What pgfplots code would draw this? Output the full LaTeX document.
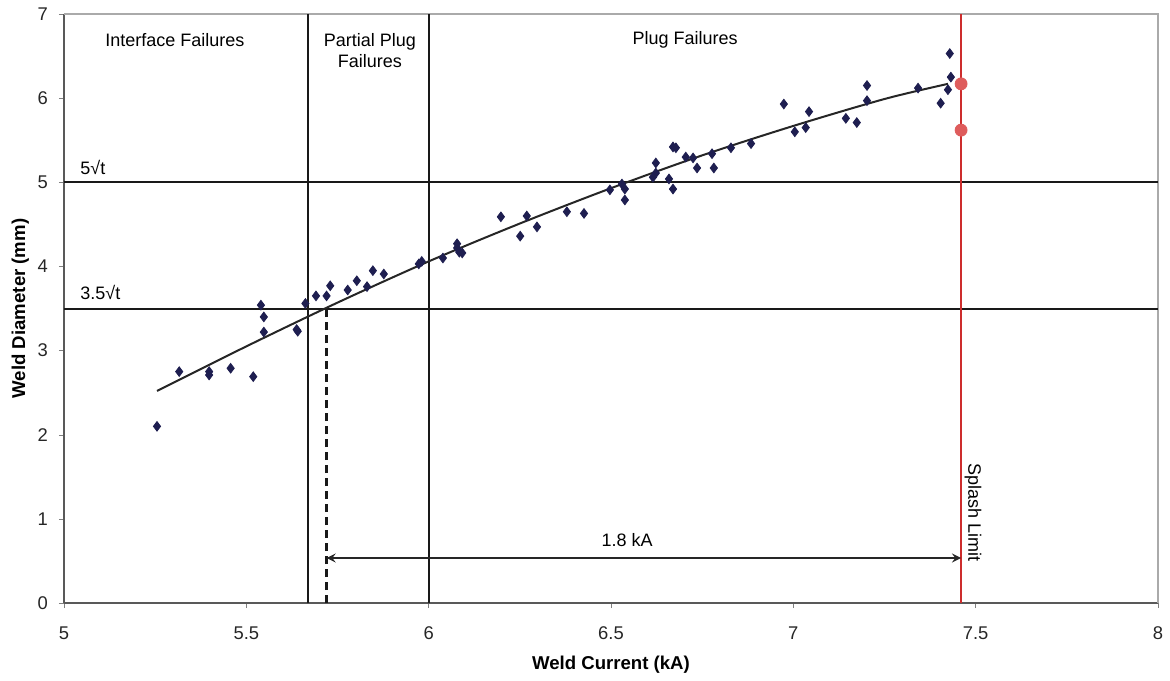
\documentclass[border=0pt]{standalone}
\usepackage{pgfplots}
\pgfplotsset{compat=1.18}
\usepackage{fontspec}
\setmainfont{Liberation Sans}

\definecolor{dotblue}{RGB}{30,30,80}
\definecolor{splashred}{RGB}{222,92,92}
\definecolor{redline}{RGB}{205,45,45}
\definecolor{framegray}{RGB}{170,170,170}

\begin{document}
\begin{tikzpicture}
\begin{axis}[
    width=547pt, height=294.5pt,
    scale only axis,
    xmin=5, xmax=8,
    ymin=0, ymax=7,
    xtick={5,5.5,...,8},
    ytick={0,1,...,7},
    axis lines=left,
    axis line style={-, draw=black!65, line width=0.6pt},
    tick align=outside,
    major tick length=2.5pt,
    tick style={black!50},
    ticklabel style={font=\fontsize{9.2}{10}\selectfont, text=black!85},
    /pgf/number format/assume math mode=true,
    xticklabel style={yshift=-6pt},
    yticklabel style={xshift=-2pt},
    xlabel={\textbf{Weld Current (kA)}},
    ylabel={\textbf{Weld Diameter (mm)}},
    xlabel style={at={(axis description cs:0.5,-0.105)}, anchor=center, font=\fontsize{9.3}{11}\selectfont},
    ylabel style={at={(axis description cs:-0.040,0.5)}, anchor=center, font=\fontsize{9.3}{11}\selectfont},
    clip=false,
]

% plot frame, top and right
\draw[framegray, line width=0.6pt] (rel axis cs:0,1) -- (rel axis cs:1,1) -- (rel axis cs:1,0);

% limits
\addplot[black!90, line width=1pt] coordinates {(5,5) (8,5)};
\addplot[black!90, line width=1pt] coordinates {(5,3.5) (8,3.5)};
\addplot[black!90, line width=1pt] coordinates {(5.67,0) (5.67,7)};
\addplot[black!90, line width=1pt] coordinates {(6,0) (6,7)};
\addplot[black!90, line width=1.4pt, dash pattern=on 4pt off 2.5pt] coordinates {(5.72,0) (5.72,3.5)};
\addplot[redline, line width=0.6pt] coordinates {(7.46,0) (7.46,7)};
\addplot[black!85, line width=1pt, <->, >=stealth] coordinates {(5.72,0.535) (7.46,0.535)};

% trend line
\addplot[black!85, line width=1pt, smooth] coordinates {
    (5.255,2.52) (5.5,3.05) (5.75,3.57) (6,4.06) (6.25,4.51)
    (6.5,4.93) (6.75,5.32) (7,5.67) (7.25,5.99) (7.424,6.17)
};

% welds
\addplot[only marks, mark=diamond*, mark size=2.4pt, color=dotblue] coordinates {
    (5.255,2.10) (5.316,2.75) (5.398,2.75) (5.398,2.71) (5.457,2.79)
    (5.519,2.69) (5.540,3.54) (5.548,3.40) (5.548,3.22) (5.638,3.25)
    (5.641,3.23) (5.662,3.56) (5.691,3.65) (5.720,3.65) (5.730,3.77)
    (5.778,3.72) (5.803,3.83) (5.831,3.76) (5.847,3.95) (5.877,3.91)
    (5.973,4.03) (5.981,4.06) (6.039,4.10) (6.078,4.27) (6.078,4.22)
    (6.084,4.17) (6.092,4.16) (6.198,4.59) (6.251,4.36) (6.269,4.60)
    (6.297,4.47) (6.379,4.65) (6.426,4.63) (6.497,4.91) (6.530,4.98)
    (6.538,4.92) (6.538,4.79) (6.615,5.06) (6.623,5.11) (6.623,5.23)
    (6.659,5.04) (6.670,4.92) (6.670,5.42) (6.678,5.41) (6.705,5.30)
    (6.725,5.29) (6.736,5.17) (6.777,5.34) (6.782,5.17) (6.829,5.41)
    (6.884,5.46) (6.974,5.93) (7.004,5.60) (7.034,5.65) (7.043,5.84)
    (7.144,5.76) (7.174,5.71) (7.202,6.15) (7.202,5.97) (7.342,6.12)
    (7.404,5.94) (7.424,6.10) (7.432,6.25) (7.429,6.53)
};

% splash welds
\addplot[only marks, mark=*, mark size=3pt, color=splashred] coordinates {
    (7.46,6.17) (7.46,5.62)
};

\node[font=\fontsize{9}{10}\selectfont] at (axis cs:5.304,6.69) {Interface Failures};
\node[font=\fontsize{9}{10.5}\selectfont, align=center] at (axis cs:5.839,6.57) {Partial Plug\\Failures};
\node[font=\fontsize{9}{10}\selectfont] at (axis cs:6.703,6.69) {Plug Failures};
\node[font=\fontsize{9}{10}\selectfont, anchor=west, inner sep=0pt] at (axis cs:5.044,5.18) {5√t};
\node[font=\fontsize{9}{10}\selectfont, anchor=west, inner sep=0pt] at (axis cs:5.044,3.69) {3.5√t};
\node[font=\fontsize{9}{10}\selectfont] at (axis cs:6.544,0.75) {1.8 kA};
\node[font=\fontsize{9}{10}\selectfont, rotate=-90] at (axis cs:7.493,1.08) {Splash Limit};
\end{axis}
\path (-32pt,-37.5pt) rectangle (553pt,301.5pt);
\end{tikzpicture}
\end{document}
